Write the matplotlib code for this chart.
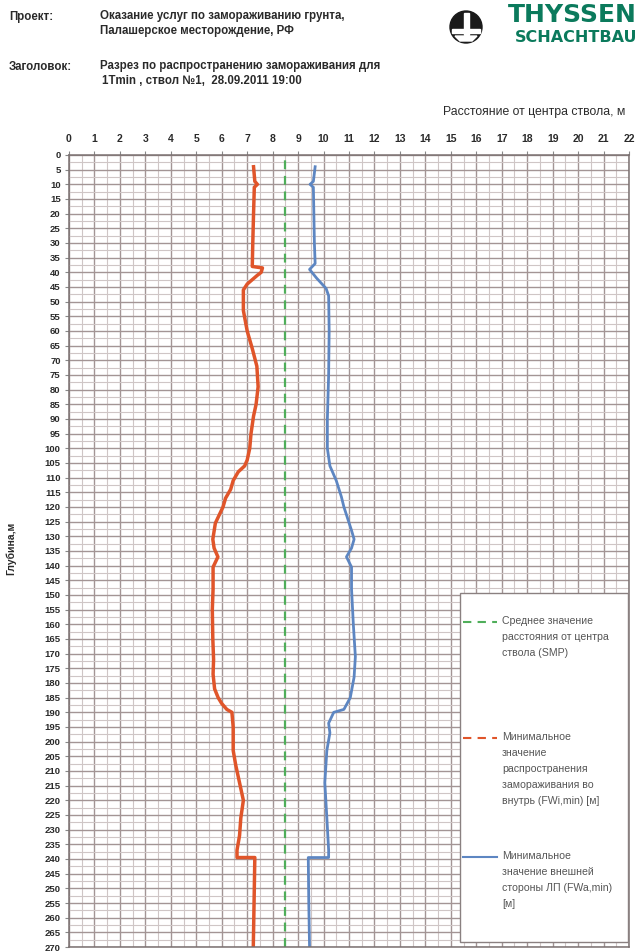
import matplotlib
matplotlib.use("Agg")
import matplotlib.pyplot as plt
from matplotlib.lines import Line2D
from matplotlib.patches import Rectangle, Circle, Polygon

plt.rcParams['font.family'] = ['Liberation Sans', 'DejaVu Sans']

# --- data -------------------------------------------------------------
smp_value = 8.5  # mean distance from shaft centre, m

fwi_depth = [4, 9, 10, 11, 20, 30, 38, 38.5, 40, 41, 44, 46, 53, 60, 66, 72,
             79, 85, 89, 95, 100, 104, 106, 108, 111, 114, 117, 120, 125.5,
             131, 134, 137, 140.5, 148, 155, 165, 172, 177, 182, 185, 187,
             189, 190, 195, 203, 208, 214, 220, 226, 232, 237, 239.5, 239.5,
             250, 260, 270]
fwi_value = [7.25, 7.3, 7.4, 7.28, 7.25, 7.22, 7.2, 7.6, 7.55, 7.4, 7.0, 6.85,
             6.85, 7.0, 7.2, 7.38, 7.43, 7.35, 7.25, 7.15, 7.1, 7.0, 6.9, 6.65,
             6.45, 6.35, 6.15, 6.05, 5.75, 5.65, 5.7, 5.85, 5.66, 5.66, 5.63,
             5.65, 5.68, 5.66, 5.72, 5.86, 6.0, 6.2, 6.4, 6.45, 6.45, 6.55, 6.7,
             6.85, 6.75, 6.7, 6.6, 6.6, 7.3, 7.28, 7.26, 7.24]

fwa_depth = [4, 9, 10, 11, 20, 30, 37, 39, 42, 45.5, 48, 60, 75, 90, 100, 106,
             111, 116.5, 120, 128, 131, 134, 137, 140.5, 148, 160, 171, 178,
             185, 189, 190, 193.7, 197, 203, 214, 226, 237, 239.5, 239.5, 255,
             270]
fwa_value = [9.67, 9.6, 9.47, 9.6, 9.62, 9.64, 9.67, 9.45, 9.73, 10.1, 10.2,
             10.22, 10.2, 10.15, 10.15, 10.25, 10.5, 10.7, 10.8, 11.1, 11.2,
             11.1, 10.9, 11.1, 11.1, 11.17, 11.25, 11.2, 11.05, 10.8, 10.4,
             10.2, 10.25, 10.13, 10.05, 10.13, 10.2, 10.2, 9.4, 9.42, 9.45]

x_ticks = list(range(0, 23))
y_ticks = list(range(0, 271, 5))

legend_labels = [
    "Среднее значение\nрасстояния от центра\nствола (SMP)",
    "Минимальное\nзначение\nраспространения\nзамораживания во\nвнутрь (FWi,min) [м]",
    "Минимальное\nзначение внешней\nстороны ЛП (FWa,min)\n[м]",
]

RED = '#e0552a'
BLUE = '#5d86c2'
GREEN = '#4fae5a'
GRID_MAJ = '#a39595'
GRID_MIN = '#cfc6c6'
TEXT = '#2a2a2a'

W, H = 642, 951
fig = plt.figure(figsize=(W / 100, H / 100), dpi=100)


def fx(px):
    return px / W


def fy(py):
    return 1 - py / H


# --- header -----------------------------------------------------------
hdr = dict(fontsize=8.3, fontweight='bold', color=TEXT, va='center')
fig.text(fx(9), fy(17), "Проект:", **hdr)
fig.text(fx(100), fy(16), "Оказание услуг по замораживанию грунта,", **hdr)
fig.text(fx(100), fy(31), "Палашерское месторождение, РФ", **hdr)
fig.text(fx(9), fy(67), "Заголовок:", **hdr)
fig.text(fx(100), fy(66), "Разрез по распространению замораживания для", **hdr)
fig.text(fx(102), fy(81), "1Tmin , ствол №1,  28.09.2011 19:00", **hdr)

# logo
logo_ax = fig.add_axes([0, 0, 1, 1], facecolor='none')
logo_ax.set_xlim(0, W)
logo_ax.set_ylim(H, 0)
logo_ax.axis('off')
logo_ax.add_patch(Circle((466, 27), 16, color='#1a1a1a'))
logo_ax.add_patch(Rectangle((463.5, 13), 5, 22, color='white'))
logo_ax.add_patch(Rectangle((452, 29), 28, 4, color='white'))
logo_ax.add_patch(Polygon([[455, 36], [477, 36], [472, 41], [460, 41]],
                          color='white'))
fig.text(fx(637), fy(15.5), "THYSSEN", fontsize=18, fontweight='bold',
         family='DejaVu Sans', color='#0b7a5c', va='center', ha='right')
fig.text(fx(637), fy(37), "SCHACHTBAU", fontsize=11.5, fontweight='bold',
         family='DejaVu Sans', color='#0b7a5c', va='center', ha='right')

# --- main chart -------------------------------------------------------
ax = fig.add_axes([fx(69), fy(947), (629 - 69) / W, (947 - 155) / H])
ax.set_xlim(0, 22)
ax.set_ylim(270, 0)

ax.xaxis.tick_top()
ax.set_xticks(x_ticks)
ax.set_yticks(y_ticks)
ax.set_xticks([v + 0.5 for v in x_ticks[:-1]], minor=True)
ax.set_yticks([v + 2.5 for v in y_ticks[:-1]], minor=True)
ax.tick_params(axis='x', which='major', labelsize=7.5, length=3, pad=5,
               color='#888888', labelcolor=TEXT)
ax.tick_params(axis='y', which='major', labelsize=6.8, length=3, pad=3,
               color='#888888', labelcolor=TEXT)
ax.tick_params(which='minor', length=0)
for lab in ax.get_xticklabels() + ax.get_yticklabels():
    lab.set_fontweight('bold')

ax.grid(which='major', color=GRID_MAJ, lw=1.0)
ax.grid(which='minor', color=GRID_MIN, lw=0.8)
ax.set_axisbelow(True)
for s in ax.spines.values():
    s.set_color('#7a7070')
    s.set_linewidth(1.1)

ax.axvline(smp_value, color=GREEN, lw=1.6, ls=(0, (4, 3)))
ax.plot(fwi_value, fwi_depth, color=RED, lw=2.5, solid_joinstyle='round')
ax.plot(fwa_value, fwa_depth, color=BLUE, lw=2.0, solid_joinstyle='round')

# axis titles
fig.text(fx(625), fy(112), "Расстояние от центра ствола, м", fontsize=8.8,
         color=TEXT, ha='right', va='center')
fig.text(fx(11), fy(548), "Глубина,м", fontsize=7.5, fontweight='bold',
         color=TEXT, rotation=90, ha='center', va='center')

# --- legend box -------------------------------------------------------
x0 = (460 - 69) / 560
ax.add_patch(Rectangle((x0, 1 - (942 - 155) / 792), 0.999 - x0,
                       (942 - 593) / 792, transform=ax.transAxes,
                       facecolor='white', edgecolor='#8a8080', lw=1.0,
                       zorder=5))
handles = [dict(color=GREEN, ls=(0, (4, 3)), lw=1.5),
           dict(color=RED, ls=(0, (4, 3)), lw=1.5),
           dict(color=BLUE, ls='-', lw=1.5)]
entry_y = [622, 738, 857]
for style, label, py in zip(handles, legend_labels, entry_y):
    yy = 1 - (py - 155) / 792
    ax.add_line(Line2D([(463 - 69) / 560, (497 - 69) / 560], [yy, yy],
                       transform=ax.transAxes, zorder=6, **style))
    ax.text((502 - 69) / 560, yy + 0.008, label, transform=ax.transAxes,
            fontsize=7.6, color='#555555', va='top', ha='left',
            linespacing=1.75, zorder=6)

fig.savefig("out.png", dpi=100)
